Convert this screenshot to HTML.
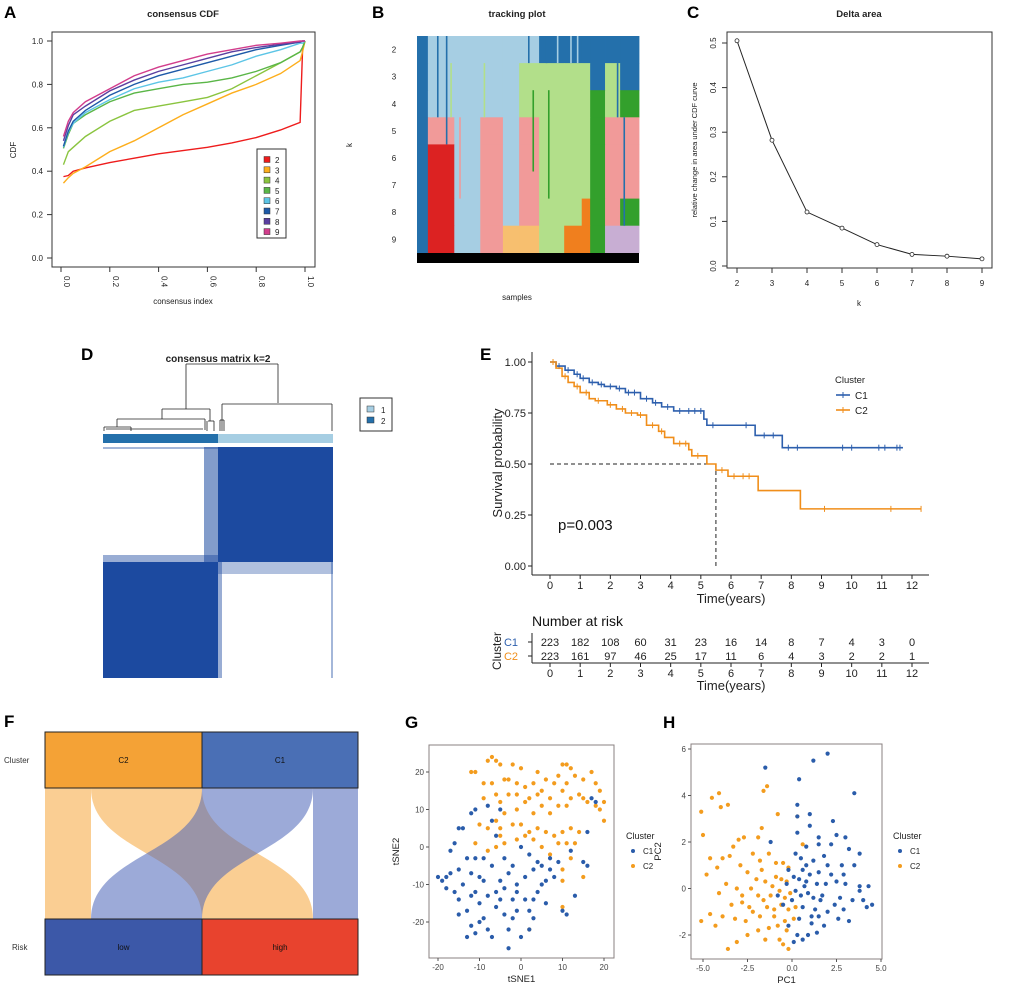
<!DOCTYPE html>
<html><head><meta charset="utf-8">
<style>
html,body{margin:0;padding:0;background:#fff;}
svg{display:block;font-family:"Liberation Sans",Arial,sans-serif;}
</style></head>
<body>
<svg id="fig" width="1020" height="985" viewBox="0 0 1020 985" xmlns="http://www.w3.org/2000/svg">
<g id="pA"></g>
<g id="pB"></g>
<g id="pC"></g>
<g id="pD"></g>
<g id="pE"></g>
<g id="pF"></g>
<g id="pG"></g>
<g id="pH"></g>
</svg>
<script>
// ---------- DATA ----------
const cdfX = [0.01,0.03,0.05,0.1,0.2,0.3,0.4,0.5,0.6,0.7,0.8,0.9,0.98,0.99,1.0];
const cdfK2 = [0.375,0.38,0.40,0.415,0.44,0.46,0.48,0.495,0.51,0.53,0.555,0.59,0.625,0.96,1.0];
const cdfK3 = [0.345,0.37,0.39,0.42,0.49,0.54,0.60,0.66,0.71,0.76,0.80,0.85,0.91,0.95,1.0];
const cdfK4 = [0.43,0.49,0.51,0.56,0.63,0.68,0.70,0.72,0.74,0.78,0.84,0.90,0.95,0.97,1.0];
const cdfK5 = [0.505,0.57,0.62,0.66,0.72,0.76,0.78,0.80,0.81,0.83,0.86,0.90,0.95,0.97,1.0];
const cdfK6 = [0.51,0.58,0.62,0.67,0.73,0.78,0.81,0.83,0.86,0.89,0.93,0.96,0.99,0.99,1.0];
const cdfK7 = [0.515,0.585,0.63,0.68,0.75,0.80,0.84,0.87,0.90,0.93,0.96,0.98,0.995,1,1];
const cdfK8 = [0.54,0.61,0.66,0.70,0.77,0.82,0.86,0.89,0.92,0.95,0.97,0.985,0.995,1,1];
const cdfK9 = [0.56,0.63,0.67,0.72,0.78,0.84,0.88,0.91,0.94,0.96,0.98,0.99,1,1,1];
const cdfTicks = ["0.0","0.2","0.4","0.6","0.8","1.0"];
const kLabels = ["2","3","4","5","6","7","8","9"];

const trackCols = [0,0.049,0.168,0.285,0.387,0.46,0.55,0.663,0.742,0.78,0.847,0.915,1.0];
const trackRows = [
 ["DB","LB","LB","LB","LB","LB","DB","DB","DB","DB","DB","DB"],
 ["DB","LB","LB","LB","LB","LG","LG","LG","LG","DB","LG","DB"],
 ["DB","LB","LB","LB","LB","LG","LG","LG","LG","DG","LG","DG"],
 ["DB","PK","LB","PK","LB","PK","LG","LG","LG","DG","PK","PK"],
 ["DB","RD","LB","PK","LB","PK","LG","LG","LG","DG","PK","PK"],
 ["DB","RD","LB","PK","LB","PK","LG","LG","LG","DG","PK","PK"],
 ["DB","RD","LB","PK","LB","PK","LG","LG","OR","DG","PK","DG"],
 ["DB","RD","LB","PK","LO","LO","LG","OR","OR","DG","LV","LV"]
];

const deltaK = [2,3,4,5,6,7,8,9];
const deltaVal = [0.505,0.282,0.121,0.085,0.048,0.026,0.022,0.016];
const deltaTicks = ["0.0","0.1","0.2","0.3","0.4","0.5"];

const kmC1T = [0,0.2,0.5,0.8,1,1.3,1.6,1.8,2.2,2.5,3,3.4,3.7,4.1,5.1,5.2,6.8,7.7,11.7];
const kmC1S = [1,0.98,0.96,0.94,0.92,0.90,0.89,0.88,0.87,0.85,0.82,0.80,0.78,0.76,0.72,0.69,0.64,0.58,0.58];
const kmC2T = [0,0.2,0.4,0.6,0.8,1,1.3,1.5,1.9,2.2,2.5,2.9,3.2,3.6,3.8,4.1,4.6,4.7,5.2,5.5,5.9,6.9,8.3,12.3];
const kmC2S = [1,0.97,0.93,0.90,0.88,0.85,0.82,0.81,0.79,0.77,0.75,0.74,0.69,0.66,0.63,0.60,0.57,0.54,0.50,0.47,0.44,0.37,0.28,0.28];
const censC1 = [0.3,0.6,0.9,1.1,1.4,1.7,2.0,2.3,2.6,2.8,3.2,3.5,3.9,4.3,4.6,4.8,5.0,5.4,6.5,7.1,7.4,7.9,8.2,9.7,10.0,10.9,11.1,11.5,11.6];
const censC2 = [0.1,0.5,0.9,1.2,1.6,2.0,2.4,2.7,3.0,3.4,3.7,4.3,4.5,4.9,5.7,6.1,6.4,6.6,9.1,11.3,12.3];
const riskTimes = [0,1,2,3,4,5,6,7,8,9,10,11,12];
const riskC1 = [223,182,108,60,31,23,16,14,8,7,4,3,0];
const riskC2 = [223,161,97,46,25,17,11,6,4,3,2,2,1];
const survTicks = ["0.00","0.25","0.50","0.75","1.00"];

const tsneC1 = [[-20,-8],[-19,-9],[-18,-11],[-17,-7],[-16,-12],[-15,-6],[-14,-10],[-15,-14],[-13,-17],[-12,-7],[-11,-12],[-10,-15],[-12,-21],[-13,-24],[-11,-23],[-9,-19],[-8,-22],[-7,-24],[-6,-16],[-5,-14],[-4,-18],[-3,-22],[-3,-27],[-2,-14],[-1,-17],[0,-24],[1,-14],[2,-17],[3,-19],[2,-22],[4,-12],[5,-10],[6,-15],[7,-6],[8,-8],[9,-4],[10,-17],[11,-18],[-1,-10],[-3,-7],[-5,-9],[-7,-5],[-9,-3],[-10,-8],[-11,-3],[-13,-3],[-15,5],[-14,5],[-17,-1],[-16,1],[-11,10],[-12,9],[-8,11],[-6,3],[-7,7],[-4,-3],[-2,-5],[0,0],[2,-2],[3,-6],[5,-5],[7,-3],[6,-9],[1,-8],[-6,-12],[13,-13],[16,-5],[15,-4],[12,-1],[16,4],[17,13],[18,12],[-5,10],[-1,-12],[-8,-13],[4,-4],[-15,-18],[-12,-13],[-18,-8],[-9,-9],[-4,-11],[3,-14],[-2,-19],[-10,-20]];
const tsneC2 = [[-8,23],[-7,24],[-6,23],[-5,22],[-11,20],[-12,20],[-2,22],[0,21],[-4,18],[-7,17],[-6,14],[-9,13],[-5,12],[-3,14],[-1,17],[1,16],[2,13],[3,17],[4,14],[6,18],[8,17],[9,19],[10,22],[11,22],[12,21],[13,19],[15,18],[17,20],[18,17],[19,15],[20,12],[18,11],[16,12],[14,14],[12,13],[11,11],[10,15],[9,11],[7,13],[5,11],[3,9],[1,12],[-1,10],[-4,9],[-6,7],[-5,5],[-8,5],[-10,6],[-11,1],[-4,1],[-2,6],[0,6],[1,3],[2,4],[4,5],[6,4],[8,3],[10,4],[12,5],[14,4],[13,1],[11,1],[9,1],[7,-2],[5,0],[3,2],[-1,2],[-6,0],[12,-3],[10,-6],[15,-8],[10,-9],[2,-22],[10,-16],[-8,-1],[-5,3],[20,7],[19,10],[-3,18],[5,15],[7,9],[11,17],[-1,14],[15,13],[4,20],[-9,17]];
const tsneTicks = [-20,-10,0,10,20];

const pcaC1 = [[2,5.8],[1.2,5.5],[-1.5,5.2],[0.4,4.7],[3.5,4.1],[0.3,3.6],[1,3.2],[0.3,3.1],[1,2.7],[2.3,2.9],[0.3,2.4],[2.5,2.3],[3,2.2],[1.5,2.2],[-1.2,2],[0.8,1.8],[1.5,1.9],[2.2,1.9],[3.2,1.7],[3.8,1.5],[0.2,1.5],[0.5,1.3],[1.2,1.2],[2,1.0],[2.8,1.0],[3.5,1.0],[0.6,0.8],[1.5,0.7],[2.2,0.6],[0.1,0.5],[0.8,0.3],[1.4,0.2],[2.5,0.3],[3,0.2],[3.8,0.1],[4.3,0.1],[0.2,-0.1],[0.9,-0.2],[1.7,-0.3],[2.7,-0.4],[3.4,-0.5],[4.5,-0.7],[4.2,-0.8],[0,-0.5],[0.6,-0.8],[1.3,-0.9],[2,-1],[2.9,-0.9],[0.4,-1.3],[1.1,-1.5],[1.8,-1.6],[2.6,-1.3],[3.2,-1.4],[0.3,-2],[0.9,-2],[1.4,-1.9],[-0.2,-1.6],[-0.5,-0.7],[-0.8,-0.3],[-0.3,0.2],[0.5,-0.3],[1,0.6],[1.8,1.4],[3.8,-0.1],[4,-0.5],[0.1,-2.3],[0.6,-2.2],[1.1,-1.2],[-0.2,0.8],[1.6,-0.5],[0.7,0.1],[1.2,-0.4],[2.4,-0.7],[0.4,0.4],[1.9,0.2],[2.9,0.6],[0.8,1.0],[1.5,-1.2]];
const pcaC2 = [[-5.1,3.3],[-5,2.3],[-4.5,3.9],[-4.1,4.1],[-4,3.5],[-3.6,3.6],[-1.6,4.2],[-1.4,4.4],[-0.8,3.2],[0.3,3.1],[-1.7,2.6],[-3,2.1],[-2.7,2.2],[-1.9,2.2],[-4.8,0.6],[-4.6,1.3],[-4.2,0.9],[-3.9,1.3],[-3.5,1.4],[-3.3,1.8],[-2.9,1.0],[-2.5,0.7],[-2.2,1.5],[-1.8,1.2],[-1.3,1.5],[-0.9,1.1],[-0.5,1.1],[-0.2,0.9],[-4.1,-0.2],[-3.7,0.2],[-3.1,0],[-2.8,-0.6],[-2.3,0],[-1.9,-0.3],[-1.5,0.3],[-1.1,0.1],[-0.7,-0.1],[-0.4,-0.4],[-0.1,-0.2],[-3.9,-1.2],[-4.6,-1.1],[-5.1,-1.4],[-3.2,-1.3],[-2.6,-1.4],[-2.2,-1.0],[-1.8,-1.2],[-1.4,-0.8],[-1,-0.9],[-0.6,-0.7],[-0.2,-0.9],[-0.4,-1.4],[-0.8,-1.6],[-1.3,-1.7],[-1.9,-1.8],[-2.5,-2],[-3.1,-2.3],[-3.6,-2.6],[-1.5,-2.2],[-0.7,-2.2],[-0.2,-2.6],[-0.5,-2.4],[0.1,-1.3],[-2.8,-0.3],[-1.2,-0.3],[-0.9,0.5],[-2,0.4],[-3.4,-0.7],[-0.3,0.3],[0.2,-0.8],[0.6,1.9],[-4.3,-1.6],[-1.6,-0.5],[-0.6,0.4],[-2.4,-0.8],[-1.0,-1.2],[-0.3,-1.8],[-1.7,0.8]];
const pcaXTicks = [-5,-2.5,0,2.5,5];
const pcaYTicks = [-2,0,2,4,6];

// ---------- HELPERS ----------
const NS = "http://www.w3.org/2000/svg";
function mk(parent, tag, attrs, text){
  const e = document.createElementNS(NS, tag);
  for (const k in attrs) e.setAttribute(k, attrs[k]);
  if (text !== undefined) e.textContent = text;
  parent.appendChild(e);
  return e;
}
function lin(d0,d1,r0,r1){ return v => r0 + (v-d0)/(d1-d0)*(r1-r0); }
function label(g, x, y, t, size, extra){
  const e = mk(g,'text',Object.assign({x:x,y:y,'font-size':size,'text-anchor':'middle',fill:'#222'},extra||{}),t);
  return e;
}
function panelLetter(g,x,y,t){
  const e = mk(g,'text',{x:x,y:y,'font-size':17,'font-weight':'bold',fill:'#000'},t);
  
  
}

// ---------- PANEL A ----------
(function(){
  const g = document.getElementById('pA');
  panelLetter(g,4,18,'A');
  const t = label(g,183,17,'consensus CDF',9.5,{'font-weight':'bold'});
   
  const X = lin(0,1,61,305), Y = lin(0,1,258,41);
  mk(g,'rect',{x:52,y:32,width:263,height:235,fill:'none',stroke:'#333','stroke-width':1});
  cdfTicks.forEach((s,i)=>{
    const v=i*0.2;
    mk(g,'line',{x1:47,x2:52,y1:Y(v),y2:Y(v),stroke:'#333'});
    label(g,43,Y(v)+3,s,8,{'text-anchor':'end'});
    mk(g,'line',{x1:X(v),x2:X(v),y1:267,y2:272,stroke:'#333'});
    mk(g,'text',{x:X(v)+3,y:276,'font-size':8,fill:'#222',transform:`rotate(90 ${X(v)+3} 276)`},s);
  });
  const yl = mk(g,'text',{x:16,y:150,'font-size':8,fill:'#222','text-anchor':'middle',transform:'rotate(-90 16 150)'},'CDF');
   
  const xl = label(g,183,304,'consensus index',8);
   
  const series=[cdfK2,cdfK3,cdfK4,cdfK5,cdfK6,cdfK7,cdfK8,cdfK9];
  const cols=['#ee1c1c','#fdae1c','#8ac43f','#5ab647','#5cc5e6','#1e5aa8','#5a3fa0','#d23d8c'];
  series.forEach((s,i)=>{
    const p = mk(g,'polyline',{points:s.map((v,j)=>X(cdfX[j])+','+Y(v)).join(' '),fill:'none',stroke:cols[i],'stroke-width':1.4});
    
    
  });
  const lg = mk(g,'g',{});
   
  mk(lg,'rect',{x:257,y:149,width:29,height:89,fill:'#fff',stroke:'#333'});
  kLabels.forEach((k,i)=>{
    const y=160+i*10.3;
    mk(lg,'rect',{x:264,y:y-3.5,width:6,height:6,fill:cols[i],stroke:'#333','stroke-width':0.5});
    mk(lg,'text',{x:275,y:y+3,'font-size':8,fill:'#222'},k);
  });
})();

// ---------- PANEL B ----------
(function(){
  const g = document.getElementById('pB');
  panelLetter(g,372,18,'B');
  const t = label(g,517,17,'tracking plot',9.5,{'font-weight':'bold'});
   
  const cmap={DB:'#2470ab',LB:'#a6cee3',LG:'#b2df8a',DG:'#33a02c',PK:'#f19a99',RD:'#dc2222',LO:'#f7bf6f',OR:'#f07f1e',LV:'#c8aed3'};
  const X = lin(0,1,417,639), y0=36, rh=27.1;
  trackRows.forEach((row,r)=>{
    row.forEach((c,j)=>{
      const x1=X(trackCols[j]), x2=X(trackCols[j+1]);
      const e = mk(g,'rect',{x:x1,y:y0+r*rh,width:Math.max(0,x2-x1)+0.4,height:rh+0.4,fill:cmap[c]});
      
      
    });
    label(g,394,y0+r*rh+rh/2+3,kLabels[r],8);
  });
  [[0.06,0,3,'LB'],[0.09,0,3,'DB'],[0.13,0,4,'DB'],[0.15,1,3,'LG'],[0.30,1,3,'LG'],[0.50,0,1,'DB'],[0.58,0,1,'DB'],[0.63,0,1,'LB'],[0.69,0,1,'LB'],[0.72,0,1,'LB'],[0.52,2,5,'DG'],[0.59,2,6,'DG'],[0.90,1,3,'DB'],[0.93,3,7,'DB'],[0.19,3,6,'PK']].forEach(s=>{
    mk(g,'rect',{x:X(s[0]),y:y0+s[1]*rh,width:1.6,height:(s[2]-s[1])*rh,fill:cmap[s[3]]});
  });
  mk(g,'rect',{x:417,y:253,width:222,height:10,fill:'#000'});
  const yl = mk(g,'text',{x:352,y:145,'font-size':8,fill:'#222','text-anchor':'middle',transform:'rotate(-90 352 145)'},'k');
   
  const xl = label(g,517,300,'samples',8);
   
})();

// ---------- PANEL C ----------
(function(){
  const g = document.getElementById('pC');
  panelLetter(g,687,18,'C');
  const t = label(g,859,17,'Delta area',9.5,{'font-weight':'bold'});
   
  const X = lin(2,9,737,982), Y = lin(0,0.5,266,43);
  mk(g,'rect',{x:727,y:32,width:265,height:236,fill:'none',stroke:'#333'});
  deltaTicks.forEach((s,i)=>{
    const v=i*0.1;
    mk(g,'line',{x1:722,x2:727,y1:Y(v),y2:Y(v),stroke:'#333'});
    mk(g,'text',{x:716,y:Y(v),'font-size':8,fill:'#222','text-anchor':'middle',transform:`rotate(-90 716 ${Y(v)})`},s);
  });
  deltaK.forEach(k=>{
    mk(g,'line',{x1:X(k),x2:X(k),y1:268,y2:273,stroke:'#333'});
    label(g,X(k),286,String(k),8);
  });
  mk(g,'polyline',{points:deltaK.map((k,i)=>X(k)+','+Y(deltaVal[i])).join(' '),fill:'none',stroke:'#222','stroke-width':1});
  deltaK.forEach((k,i)=>{
    const c = mk(g,'circle',{cx:X(k),cy:Y(deltaVal[i]),r:2,fill:'#fff',stroke:'#222','stroke-width':0.8});
    
    
  });
  const yl = mk(g,'text',{x:697,y:150,'font-size':7.5,fill:'#222','text-anchor':'middle',transform:'rotate(-90 697 150)'},'relative change in area under CDF curve');
   
  const xl = label(g,859,306,'k',8);
   
})();

// ---------- PANEL D ----------
(function(){
  const g = document.getElementById('pD');
  panelLetter(g,81,360,'D');
  const t = label(g,218,362,'consensus matrix k=2',10,{'font-weight':'bold'});
   
  const dg = mk(g,'g',{fill:'none',stroke:'#222','stroke-width':0.8});
   
  const segs=[[186,364,278,364],[186,364,186,409],[278,364,278,403],[162,409,210,409],[162,409,162,419],[210,409,210,421],[117,419,205,419],[117,419,117,427],[205,419,205,430],[104,427,131,427],[104,427,104,431],[131,427,131,431],[106,429,203,429],[222,404,332,404],[222,404,222,431],[332,404,332,431],[208,421,214,421],[220,420,224,420],[207,421,207,431],[214,421,214,431],[220,420,220,431],[224,420,224,431]];
  segs.forEach(s=>mk(dg,'line',{x1:s[0],y1:s[1],x2:s[2],y2:s[3]}));
  mk(g,'rect',{x:103,y:434,width:115,height:9,fill:'#2470ab'});
  mk(g,'rect',{x:218,y:434,width:115,height:9,fill:'#a6cee3'});
  const blue='#1c4aa0';
  const hm = mk(g,'g',{});
   
  mk(hm,'rect',{x:103,y:447,width:230,height:231,fill:'#fff'});
  mk(hm,'rect',{x:218,y:447,width:115,height:115,fill:blue});
  mk(hm,'rect',{x:103,y:562,width:115,height:116,fill:blue});
  mk(hm,'rect',{x:204,y:447,width:14,height:115,fill:blue,opacity:0.55});
  mk(hm,'rect',{x:103,y:555,width:115,height:7,fill:blue,opacity:0.45});
  mk(hm,'rect',{x:218,y:562,width:115,height:12,fill:blue,opacity:0.35});
  mk(hm,'rect',{x:218,y:562,width:4,height:116,fill:blue,opacity:0.45});
  mk(hm,'rect',{x:103,y:447,width:230,height:2,fill:blue,opacity:0.4});
  mk(hm,'rect',{x:331,y:562,width:2,height:116,fill:blue,opacity:0.4});
  const lg = mk(g,'g',{});  
  mk(lg,'rect',{x:360,y:398,width:32,height:33,fill:'#fff',stroke:'#333'});
  mk(lg,'rect',{x:367,y:406,width:7,height:6,fill:'#a6cee3',stroke:'#333','stroke-width':0.5});
  mk(lg,'rect',{x:367,y:417,width:7,height:6,fill:'#2470ab',stroke:'#333','stroke-width':0.5});
  mk(lg,'text',{x:381,y:413,'font-size':8,fill:'#222'},'1');
  mk(lg,'text',{x:381,y:424,'font-size':8,fill:'#222'},'2');
})();

// ---------- PANEL E ----------
(function(){
  const g = document.getElementById('pE');
  panelLetter(g,480,360,'E');
  const X = lin(0,12,550,912), Y = lin(0,1,566,362);
  mk(g,'line',{x1:532,x2:532,y1:352,y2:575,stroke:'#222','stroke-width':1});
  mk(g,'line',{x1:532,x2:929,y1:575,y2:575,stroke:'#222','stroke-width':1});
  survTicks.forEach((s,i)=>{
    const v=i*0.25;
    mk(g,'line',{x1:528,x2:532,y1:Y(v),y2:Y(v),stroke:'#222'});
    mk(g,'text',{x:526,y:Y(v)+4,'font-size':11,fill:'#222','text-anchor':'end'},s);
  });
  riskTimes.forEach(t=>{
    mk(g,'line',{x1:X(t),x2:X(t),y1:575,y2:579,stroke:'#222'});
    label(g,X(t),589,String(t),11);
  });
  const xl = label(g,731,603,'Time(years)',13);
   
  const yl = mk(g,'text',{x:502,y:463,'font-size':13,fill:'#222','text-anchor':'middle',transform:'rotate(-90 502 463)'},'Survival probability');
   
  mk(g,'line',{x1:X(0),x2:X(5.5),y1:Y(0.5),y2:Y(0.5),stroke:'#222','stroke-dasharray':'4,3'});
  mk(g,'line',{x1:X(5.5),x2:X(5.5),y1:Y(0.5),y2:Y(0),stroke:'#222','stroke-dasharray':'4,3'});
  function step(T,S){
    let d='M'+X(T[0])+','+Y(S[0]);
    for(let i=1;i<T.length;i++){ d+=' H'+X(T[i])+' V'+Y(S[i]); }
    return d;
  }
  function survAt(T,S,t){ let s=S[0]; for(let i=0;i<T.length;i++){ if(T[i]<=t) s=S[i]; } return s; }
  [[kmC1T,kmC1S,censC1,'#2d5fad','c1'],[kmC2T,kmC2S,censC2,'#f08e1a','c2']].forEach(a=>{
    const p = mk(g,'path',{d:step(a[0],a[1]),fill:'none',stroke:a[3],'stroke-width':1.6});
    
    
    a[2].forEach(t=>{
      const y=Y(survAt(a[0],a[1],t));
      mk(g,'line',{x1:X(t),x2:X(t),y1:y-3,y2:y+3,stroke:a[3],'stroke-width':1});
    });
  });
  const pv = mk(g,'text',{x:558,y:530,'font-size':15,fill:'#111'},'p=0.003');
   
  const lg = mk(g,'g',{});  
  mk(lg,'text',{x:835,y:383,'font-size':9.5,fill:'#222'},'Cluster');
  [['C1','#2d5fad',395],['C2','#f08e1a',410]].forEach(r=>{
    mk(lg,'line',{x1:836,x2:850,y1:r[2],y2:r[2],stroke:r[1],'stroke-width':1.6});
    mk(lg,'line',{x1:843,x2:843,y1:r[2]-3,y2:r[2]+3,stroke:r[1],'stroke-width':1});
    mk(lg,'text',{x:855,y:r[2]+4,'font-size':10,fill:'#222'},r[0]);
  });
  const nr = mk(g,'text',{x:532,y:626,'font-size':14,fill:'#111'},'Number at risk');
   
  mk(g,'line',{x1:532,x2:532,y1:633,y2:663,stroke:'#222'});
  mk(g,'line',{x1:532,x2:929,y1:663,y2:663,stroke:'#222'});
  mk(g,'text',{x:518,y:646,'font-size':11,fill:'#2d5fad','text-anchor':'end'},'C1');
  mk(g,'text',{x:518,y:660,'font-size':11,fill:'#f08e1a','text-anchor':'end'},'C2');
  mk(g,'line',{x1:528,x2:532,y1:642,y2:642,stroke:'#222'});
  mk(g,'line',{x1:528,x2:532,y1:656,y2:656,stroke:'#222'});
  mk(g,'text',{x:501,y:651,'font-size':12,fill:'#222','text-anchor':'middle',transform:'rotate(-90 501 651)'},'Cluster');
  riskTimes.forEach((t,i)=>{
    const a = label(g,X(t),646,String(riskC1[i]),11);
     
    const b = label(g,X(t),660,String(riskC2[i]),11);
     
    mk(g,'line',{x1:X(t),x2:X(t),y1:663,y2:667,stroke:'#222'});
    label(g,X(t),677,String(t),11);
  });
  label(g,731,690,'Time(years)',13);
})();

// ---------- PANEL F ----------
(function(){
  const g = document.getElementById('pF');
  panelLetter(g,4,727,'F');
  const top=788, bot=919;
  function band(xt1,xt2,xb1,xb2,col){
    const m=(top+bot)/2;
    const d=`M${xt1},${top} C${xt1},${m} ${xb1},${m} ${xb1},${bot} L${xb2},${bot} C${xb2},${m} ${xt2},${m} ${xt2},${top} Z`;
    const p = mk(g,'path',{d:d,fill:col,opacity:0.55});
    
    
  }
  band(45,91,45,91,'#f5a53a');
  band(91,202,202,313,'#f5a53a');
  band(202,313,91,202,'#4a64b8');
  band(313,358,313,358,'#4a64b8');
  [[45,732,157,56,'#f4a236','C2','node-c2'],[202,732,156,56,'#4a6fb5','C1','node-c1'],[45,919,157,56,'#3c58a8','low','node-low'],[202,919,156,56,'#e8432e','high','node-high']].forEach(n=>{
    const r = mk(g,'rect',{x:n[0],y:n[1],width:n[2],height:n[3],fill:n[4],stroke:'#222','stroke-width':1});
    
    
    label(g,n[0]+n[2]/2,n[1]+n[3]/2+3,n[5],8,{fill:'#111'});
  });
  mk(g,'text',{x:4,y:763,'font-size':8,fill:'#333'},'Cluster');
  mk(g,'text',{x:12,y:950,'font-size':8,fill:'#333'},'Risk');
})();

// ---------- SCATTER helper ----------
function scatter(g, box, X, Y, c1, c2, xt, yt, xtl, ytl, xlab, ylab, legX){
  mk(g,'rect',{x:box[0],y:box[1],width:box[2]-box[0],height:box[3]-box[1],fill:'#fff',stroke:'#8a8080','stroke-width':1});
  xt.forEach((v,i)=>{
    mk(g,'line',{x1:X(v),x2:X(v),y1:box[3],y2:box[3]+3,stroke:'#555'});
    label(g,X(v),box[3]+12,xtl[i],8,{fill:'#444'});
  });
  yt.forEach((v,i)=>{
    mk(g,'line',{x1:box[0]-3,x2:box[0],y1:Y(v),y2:Y(v),stroke:'#555'});
    mk(g,'text',{x:box[0]-5,y:Y(v)+3,'font-size':8,fill:'#444','text-anchor':'end'},ytl[i]);
  });
  const xl = label(g,(box[0]+box[2])/2,box[3]+24,xlab,9.5);
   
  const cy=(box[1]+box[3])/2, yx=box[0]-30;
  const yl = mk(g,'text',{x:yx,y:cy,'font-size':9.5,fill:'#222','text-anchor':'middle',transform:`rotate(-90 ${yx} ${cy})`},ylab);
   
  c2.forEach(p=>{
    const c = mk(g,'circle',{cx:X(p[0]),cy:Y(p[1]),r:2.1,fill:'#f39c1e'});
    
    
  });
  c1.forEach(p=>{
    const c = mk(g,'circle',{cx:X(p[0]),cy:Y(p[1]),r:2.1,fill:'#2a5caa'});
    
    
  });
  const lg = mk(g,'g',{});  
  mk(lg,'text',{x:legX,y:839,'font-size':9,fill:'#222'},'Cluster');
  mk(lg,'circle',{cx:legX+7,cy:851,r:2,fill:'#2a5caa'});
  mk(lg,'text',{x:legX+17,y:854,'font-size':8,fill:'#222'},'C1');
  mk(lg,'circle',{cx:legX+7,cy:866,r:2,fill:'#f39c1e'});
  mk(lg,'text',{x:legX+17,y:869,'font-size':8,fill:'#222'},'C2');
}
(function(){
  const g = document.getElementById('pG');
  panelLetter(g,405,728,'G');
  scatter(g,[429,745,614,958],lin(-20,20,438,604),lin(-20,20,922,772),tsneC1,tsneC2,
    tsneTicks,tsneTicks,tsneTicks.map(String),tsneTicks.map(String),'tSNE1','tSNE2',626);
})();
(function(){
  const g = document.getElementById('pH');
  panelLetter(g,663,728,'H');
  scatter(g,[691,744,882,959],lin(-5,5,703,881),lin(-2,6,935,749),pcaC1,pcaC2,
    pcaXTicks,pcaYTicks,["-5.0","-2.5","0.0","2.5","5.0"],pcaYTicks.map(String),'PC1','PC2',893);
})();
</script>
</body></html>
